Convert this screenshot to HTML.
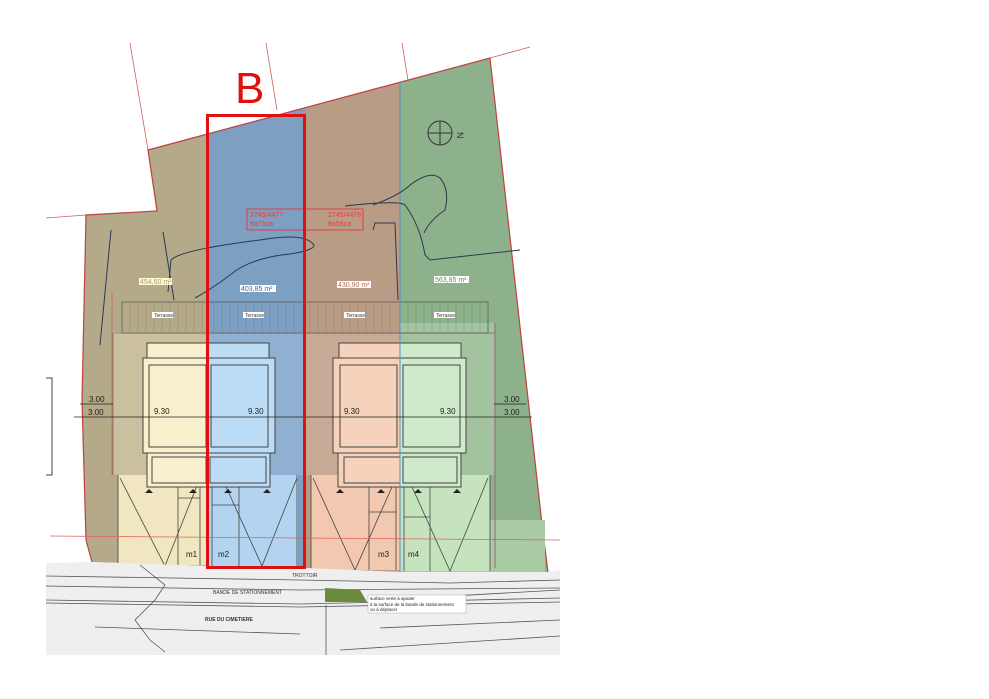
<!DOCTYPE html>
<html><head><meta charset="utf-8"><style>
html,body{margin:0;padding:0;background:#fff;}
svg{display:block;font-family:"Liberation Sans",sans-serif;}
</style></head><body>
<svg width="989" height="699" viewBox="0 0 989 699" xmlns="http://www.w3.org/2000/svg">
<rect width="989" height="699" fill="#fff"/>
<g stroke="#d06060" stroke-width="0.8" fill="none">
<line x1="130" y1="43" x2="148" y2="150"/>
<line x1="266" y1="43" x2="277" y2="110"/>
<line x1="402" y1="43" x2="408" y2="80"/>
<line x1="490" y1="58" x2="530" y2="47"/>
<line x1="46" y1="218" x2="86" y2="215"/>
</g>
<polygon points="148,150 207,134 207,566 92,562 86,540 82,400 86,215 157,211" fill="#b4a988"/>
<polygon points="207,134 305,108 305,568 207,566" fill="#7c9fc2"/>
<polygon points="305,108 400,82 400,572 305,568" fill="#b99c86"/>
<polygon points="400,82 490,58 543,533 548,572 400,572" fill="#8db18a"/>
<polyline points="92,562 86,540 82,400 86,215 157,211 148,150 490,58 543,533 548,572" fill="none" stroke="#c04040" stroke-width="1.2"/>
<rect x="113" y="332" width="94" height="143" fill="#cabf9f"/>
<rect x="207" y="332" width="98" height="143" fill="#8fb0d0"/>
<rect x="305" y="332" width="95" height="143" fill="#c8ab96"/>
<rect x="400" y="323" width="95" height="152" fill="#a3c39e"/>
<rect x="400" y="520" width="145" height="52" fill="#a8cba3"/>
<rect x="122" y="302" width="366" height="31" fill="none" stroke="#555" stroke-width="0.7"/>
<g stroke="#00000025" stroke-width="0.6">
<path d="M130 302v31M138 302v31M146 302v31M154 302v31M162 302v31M170 302v31M178 302v31M186 302v31M194 302v31M202 302v31M214 302v31M222 302v31M230 302v31M238 302v31M246 302v31M254 302v31M262 302v31M270 302v31M278 302v31M286 302v31M294 302v31M310 302v31M318 302v31M326 302v31M334 302v31M342 302v31M350 302v31M358 302v31M366 302v31M374 302v31M382 302v31M390 302v31M408 302v31M416 302v31M424 302v31M432 302v31M440 302v31M448 302v31M456 302v31M464 302v31M472 302v31M480 302v31"/>
</g>
<line x1="113" y1="333" x2="495" y2="333" stroke="#555" stroke-width="0.6"/>
<line x1="113" y1="333" x2="113" y2="475" stroke="#555" stroke-width="0.6"/>
<line x1="495" y1="323" x2="495" y2="568" stroke="#a07080" stroke-width="1.2"/>
<line x1="112" y1="293" x2="112" y2="475" stroke="#d06060" stroke-width="0.7"/>
<rect x="118" y="475" width="89" height="90" fill="#f0e6c0"/>
<rect x="207" y="475" width="91" height="93" fill="#b3d4f0"/>
<rect x="311" y="475" width="89" height="95" fill="#f2c8b0"/>
<rect x="400" y="475" width="90" height="96" fill="#c5e4be"/>
<g stroke="#444" stroke-width="0.8" fill="none">
<path d="M118 475v90M178 475v90M200 475v90M212 475v93M239 475v93M297 475v93M311 475v95M369 475v95M396 475v95M404 475v96M430 475v96M490 475v96"/>
<path d="M178 498h22M212 505h27M369 512h27M404 517h26"/>
<path d="M120 478L165 566L200 478M222 478L262 566L297 478M313 478L355 570L396 478M408 478L450 571L488 478"/>
</g>
<g stroke="#444" stroke-width="1" >
<rect x="147" y="343" width="60" height="17" fill="#f8f0cc"/>
<rect x="207" y="343" width="62" height="17" fill="#bcdcf6"/>
<rect x="339" y="343" width="61" height="17" fill="#f6d2bc"/>
<rect x="400" y="343" width="61" height="17" fill="#cfeaca"/>
<rect x="143" y="358" width="64" height="95" fill="#f8f0cc"/>
<rect x="207" y="358" width="68" height="95" fill="#bcdcf6"/>
<rect x="333" y="358" width="67" height="95" fill="#f6d2bc"/>
<rect x="400" y="358" width="66" height="95" fill="#cfeaca"/>
<rect x="149" y="365" width="57" height="82" fill="none"/>
<rect x="211" y="365" width="57" height="82" fill="none"/>
<rect x="340" y="365" width="57" height="82" fill="none"/>
<rect x="403" y="365" width="57" height="82" fill="none"/>
<rect x="147" y="453" width="60" height="34" fill="#f8f0cc"/>
<rect x="207" y="453" width="63" height="34" fill="#bcdcf6"/>
<rect x="338" y="453" width="62" height="34" fill="#f6d2bc"/>
<rect x="400" y="453" width="61" height="34" fill="#cfeaca"/>
<rect x="152" y="457" width="54" height="26" fill="none"/>
<rect x="210" y="457" width="56" height="26" fill="none"/>
<rect x="344" y="457" width="56" height="26" fill="none"/>
<rect x="403" y="457" width="54" height="26" fill="none"/>
</g>
<line x1="400" y1="82" x2="400" y2="572" stroke="#5a8fc0" stroke-width="1"/>
<g fill="#222"><path d="M145 493l4-4 4 4z M189 493l4-4 4 4z M224 493l4-4 4 4z M263 493l4-4 4 4z M336 493l4-4 4 4z M377 493l4-4 4 4z M414 493l4-4 4 4z M453 493l4-4 4 4z"/></g>
<g stroke="#222" stroke-width="0.8">
<line x1="74" y1="417" x2="532" y2="417"/>
<line x1="80" y1="404" x2="113" y2="404"/>
<line x1="494" y1="404" x2="526" y2="404"/>
</g>
<g font-size="8" fill="#222">
<text x="89" y="402">3.00</text><text x="88" y="415">3.00</text>
<text x="154" y="414">9.30</text><text x="248" y="414">9.30</text>
<text x="344" y="414">9.30</text><text x="440" y="414">9.30</text>
<text x="504" y="402">3.00</text><text x="504" y="415">3.00</text>
</g>
<g stroke="#2a3a50" stroke-width="1" fill="none">
<path d="M168 292 L171 260 Q180 250 260 240 Q305 232 314 245 Q315 250 290 254 Q250 258 230 275 Q210 290 195 298"/>
<path d="M373 230 L375 223 L395 223 L398 300"/>
<path d="M345 206 Q400 200 405 205 Q420 225 425 255 L430 260 L520 250"/>
<path d="M373 205 Q400 195 410 185 Q430 170 440 178 Q450 190 445 210 Q430 220 424 233"/>
<path d="M163 232L174 300M111 230L100 345"/>
</g>
<g font-size="7">
<rect x="139" y="278" width="33" height="7" fill="#fff8d8"/><text x="140" y="284" fill="#b0a060">454,60 m²</text>
<rect x="240" y="285" width="36" height="7" fill="#fff"/><text x="241" y="291" fill="#4060a0">403,85 m²</text>
<rect x="337" y="281" width="34" height="7" fill="#fff"/><text x="338" y="287" fill="#b07050">430,90 m²</text>
<rect x="434" y="276" width="35" height="7" fill="#fff"/><text x="435" y="282" fill="#40a040">563,85 m²</text>
<g font-size="5" fill="#333">
<rect x="152" y="312" width="21" height="6" fill="#fff"/><text x="154" y="317">Terrasse</text>
<rect x="243" y="312" width="21" height="6" fill="#fff"/><text x="245" y="317">Terrasse</text>
<rect x="344" y="312" width="21" height="6" fill="#fff"/><text x="346" y="317">Terrasse</text>
<rect x="434" y="312" width="21" height="6" fill="#fff"/><text x="436" y="317">Terrasse</text>
</g>
</g>
<rect x="247" y="209" width="116" height="21" fill="none" stroke="#e04040" stroke-width="1"/>
<g font-size="7" fill="#e04040"><text x="250" y="217">2745/4477</text><text x="250" y="226">8a75ca</text><text x="328" y="217">2745/4478</text><text x="328" y="226">8a58ca</text></g>
<circle cx="440" cy="133" r="12" fill="none" stroke="#333" stroke-width="1"/>
<path d="M428 133h24M440 121v24" stroke="#333" stroke-width="1"/>
<text x="455" y="140" font-size="9" fill="#333" transform="rotate(90 460 137)">N</text>
<line x1="50" y1="536" x2="560" y2="540" stroke="#e06060" stroke-width="0.8"/>
<polygon points="46,563 92,562 207,566 305,568 400,572 548,572 560,570 560,655 46,655" fill="#efefef"/>
<g stroke="#555" stroke-width="0.8" fill="none">
<path d="M46 576 L300 580 L450 583 L560 580"/>
<path d="M46 586 L300 590 L560 588"/>
<path d="M46 600 L300 604 L560 598"/>
<path d="M46 603 L300 607 L560 602"/>
<path d="M140 565 L165 585 L155 600 L135 620 L150 640 L165 652"/>
<path d="M95 627 L300 634"/>
<path d="M326 605 L326 655 M380 600 L560 590 M380 628 L560 620 M340 650 L560 636"/>
</g>
<polygon points="325,588 360,590 367,602 325,602" fill="#6b8a3c"/>
<rect x="368" y="595" width="98" height="18" fill="#fff" stroke="#aaa" stroke-width="0.5"/>
<g font-size="4.5" fill="#222"><text x="370" y="600">surface verte à ajouter</text><text x="370" y="606">à la surface de la bande de stationnement</text><text x="370" y="611">ou à déplacer</text></g>
<g font-size="5" fill="#333"><text x="292" y="577">TROTTOIR</text><text x="213" y="594">BANDE DE STATIONNEMENT</text><text x="205" y="621" font-weight="bold">RUE DU CIMETIERE</text></g>
<g font-size="8" fill="#222"><text x="186" y="557">m1</text><text x="218" y="557">m2</text><text x="378" y="557">m3</text><text x="408" y="557">m4</text></g>
<path d="M46 378h6v97h-6" fill="none" stroke="#444" stroke-width="1"/>
<rect x="207.5" y="115.5" width="97" height="452" fill="none" stroke="#e01010" stroke-width="3"/>
<text x="235" y="103" font-size="44" fill="#e01010">B</text>
</svg>
</body></html>
